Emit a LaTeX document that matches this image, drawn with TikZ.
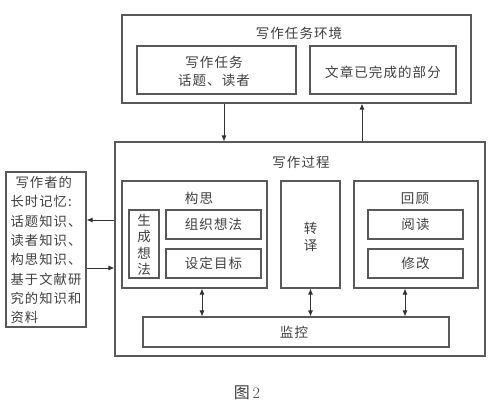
\documentclass[tikz,border=0pt]{standalone}
\usepackage{fontspec}
\newfontfamily\cjk[LetterSpace=8]{Noto Sans CJK SC}
\usetikzlibrary{arrows.meta}
\begin{document}
\begin{tikzpicture}[x=1pt,y=-1pt,
 box/.style={draw=black!65, line width=1.1pt, inner sep=0pt},
 lbl/.style={font=\cjk\fontsize{13.5}{17}\selectfont, text=black!75, inner sep=0pt, align=center},
 arr/.style={draw=black!80, line width=0.9pt, -{Latex[length=6pt,width=5pt]}},
 darr/.style={draw=black!80, line width=0.9pt, {Latex[length=6pt,width=5pt]}-{Latex[length=6pt,width=5pt]}}]
\useasboundingbox (0,0) rectangle (493,401);
\fill[white] (0,0) rectangle (493,401);
% writing task environment
\node[box, minimum width=349pt, minimum height=88pt] (env) at (296.5,59) {};
\node[lbl] (envt) at (299,33) {写作任务环境};
\node[box, minimum width=159pt, minimum height=48pt] (task) at (216.5,70) {};
\node[lbl, font=\cjk\fontsize{13.5}{18}\selectfont] (taskt) at (214,71) {写作任务\\话题、读者};
\node[box, minimum width=146pt, minimum height=48pt] (done) at (383,70) {};
\node[lbl] (donet) at (383,72) {文章已完成的部分};
% writing process
\node[box, minimum width=370pt, minimum height=214pt] (proc) at (300,249) {};
\node[lbl] (proct) at (301,162) {写作过程};
\node[box, minimum width=145pt, minimum height=107pt] (plan) at (194.5,234.5) {};
\node[lbl] (plant) at (199,198) {构思};
\node[box, minimum width=30pt, minimum height=68pt] (gen) at (144,244) {};
\node[lbl, font=\cjk\fontsize{13.5}{16.5}\selectfont] (gent) at (144,245) {生\\成\\想\\法};
\node[box, minimum width=95pt, minimum height=29pt] (org) at (213.5,224.5) {};
\node[lbl] (orgt) at (213.5,224.5) {组织想法};
\node[box, minimum width=95pt, minimum height=29pt] (goal) at (213.5,263.5) {};
\node[lbl] (goalt) at (213.5,263.5) {设定目标};
\node[box, minimum width=59pt, minimum height=107pt] (trans) at (310.5,234.5) {};
\node[lbl, font=\cjk\fontsize{13.5}{17}\selectfont] (transt) at (310.5,236.5) {转\\译};
\node[box, minimum width=124pt, minimum height=107pt] (rev) at (416,234.5) {};
\node[lbl] (revt) at (415,199) {回顾};
\node[box, minimum width=95pt, minimum height=29pt] (read) at (415.5,224.5) {};
\node[lbl] (readt) at (415.5,224.5) {阅读};
\node[box, minimum width=95pt, minimum height=29pt] (mod) at (415.5,263.5) {};
\node[lbl] (modt) at (415.5,263.5) {修改};
\node[box, minimum width=306pt, minimum height=30pt] (mon) at (296,332) {};
\node[lbl] (mont) at (294,332) {监控};
% long-term memory
\node[box, minimum width=80pt, minimum height=155pt] (mem) at (46,249.5) {};
\node[lbl, align=left, font=\cjk\fontsize{13.3}{19.3}\selectfont] (memt) at (46,250) {\hspace*{5pt}写作者的\\长时记忆:\\话题知识、\\读者知识、\\构思知识、\\基于文献研\\究的知识和\\资料};
% caption
\node[lbl, font=\cjk\fontsize{16}{18}\selectfont] (cap) at (247,393) {图\,{\rmfamily 2}};
% connectors
\coordinate (c1) at (224,0);
\coordinate (c2) at (362,0);
\coordinate (c3) at (202,0);
\coordinate (c4) at (405,0);
\coordinate (r1) at (0,220);
\coordinate (r2) at (0,268);
\draw[arr] (env.south -| c1) -- (proc.north -| c1);
\draw[arr] (proc.north -| c2) -- (env.south -| c2);
\draw[darr] (plan.south -| c3) -- (mon.north -| c3);
\draw[darr] (trans.south) -- (trans.south |- mon.north);
\draw[darr] (rev.south -| c4) -- (mon.north -| c4);
\draw[arr] (proc.west |- r1) -- (mem.east |- r1);
\draw[arr] (mem.east |- r2) -- (proc.west |- r2);
\end{tikzpicture}
\end{document}
